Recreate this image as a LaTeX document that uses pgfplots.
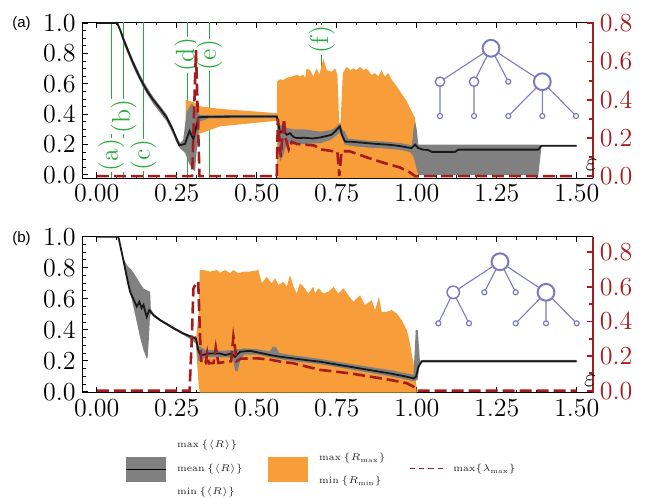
\RequirePackage{fix-cm}
\documentclass[border=0pt]{standalone}
\usepackage{fontspec}
\usepackage{graphicx}
\usepackage{pgfplots}
\pgfplotsset{compat=1.18}
\newfontfamily\lsans{Liberation Sans}
\definecolor{eRed}{RGB}{165,28,30}
\definecolor{oFill}{RGB}{247,157,57}
\definecolor{gFill}{RGB}{128,128,128}
\definecolor{gLab}{RGB}{40,170,60}
\definecolor{treeC}{RGB}{122,122,196}
\tikzset{glab/.style={gLab, rotate=90, fill=white, inner sep=0.3pt, font=\fontsize{13}{15}\selectfont}}
\pgfplotsset{
  base/.style={scale only axis, width=255pt, height=78pt, anchor=south west,
    xmin=-0.044, xmax=1.55, clip=true,
    tick label style={font=\fontsize{13}{15}\selectfont},
    tick align=inside},
  leftax/.style={base,
    axis line style={black, line width=0.5pt},
    every tick/.style={black, line width=0.5pt},
    major tick length=2.8pt, minor tick length=1.6pt,
    xtick={0,0.25,0.5,0.75,1,1.25,1.5}, minor x tick num=3,
    ytick={0,0.2,0.4,0.6,0.8,1.0}, minor y tick num=3,
    xtick pos=both, ytick pos=left,
    xticklabel style={/pgf/number format/.cd, fixed, fixed zerofill, precision=2},
    yticklabel style={/pgf/number format/.cd, fixed, fixed zerofill, precision=1}},
  rightax/.style={base,
    axis x line=none, axis y line*=right, tick align=inside,
    y axis line style={eRed, line width=1pt},
    every tick/.style={eRed, line width=0.9pt},
    major tick length=3pt, minor tick length=2pt,
    ytick={0,0.2,0.4,0.6,0.8}, minor y tick num=1,
    yticklabel style={eRed, /pgf/number format/.cd, fixed, fixed zerofill, precision=1}},
  meanl/.style={black!90, line width=0.9pt},
  redl/.style={eRed, line width=1.3pt, dash pattern=on 6pt off 2.5pt}
}
\newcommand\legsc[1]{\scalebox{0.87}{#1}}
\begin{document}
\begin{tikzpicture}
\path[use as bounding box] (0,0) rectangle (323.5pt,-250pt);

% ================= TOP PANEL =================
\begin{axis}[leftax, at={(41.35pt,-89pt)}, ymin=-0.02, ymax=1.007]
\foreach \xx in {0.045,0.084,0.146,0.283,0.352,0.703}{
  \edef\tmp{\noexpand\draw[gLab, line width=0.5pt] (axis cs:\xx,-0.02) -- (axis cs:\xx,1.007);}\tmp}
\node[glab] at (axis cs:0.045,0.133) {(a)};
\node[glab] at (axis cs:0.084,0.385) {(b)};
\node[glab] at (axis cs:0.146,0.133) {(c)};
\node[glab] at (axis cs:0.283,0.79) {(d)};
\node[glab] at (axis cs:0.352,0.79) {(e)};
\node[glab] at (axis cs:0.703,0.89) {(f)};
% orange band: max{R_max} then min{R_min} reversed
\addplot[fill=oFill, draw=none] coordinates {
(0.278,0.494)(0.302,0.48)(0.323,0.452)(0.385,0.435)(0.45,0.425)(0.5625,0.407)
(0.5635,0.615)(0.573,0.63)(0.583,0.625)(0.594,0.64)(0.604,0.645)(0.614,0.65)(0.625,0.66)
(0.635,0.648)(0.646,0.66)(0.651,0.637)(0.656,0.70)(0.667,0.69)(0.677,0.648)(0.6875,0.702)
(0.696,0.66)(0.708,0.768)(0.719,0.69)(0.734,0.68)(0.745,0.702)(0.752,0.66)(0.758,0.33)
(0.762,0.35)(0.769,0.67)(0.781,0.713)(0.792,0.69)(0.802,0.702)(0.812,0.69)(0.823,0.713)
(0.833,0.69)(0.844,0.70)(0.859,0.66)(0.87,0.67)(0.88,0.648)(0.89,0.69)(0.9,0.648)
(0.911,0.67)(0.922,0.626)(0.9375,0.583)(0.948,0.55)(0.969,0.484)(0.984,0.418)(0.995,0.374)
(1.0,0.2)(1.005,-0.02)
(0.5635,-0.02)(0.5625,0.357)(0.385,0.32)(0.32,0.27)(0.30,0.25)(0.278,0.33)
} -- cycle;
% gray band: max{<R>} then min{<R>} reversed
\addplot[fill=gFill, draw=none] coordinates {
(0.0,1.0)(0.064,1.0)(0.084,0.91)(0.114,0.755)(0.146,0.615)(0.176,0.515)(0.218,0.40)
(0.235,0.325)(0.25,0.25)(0.26,0.21)(0.27,0.23)(0.276,0.33)(0.281,0.418)(0.297,0.47)
(0.31,0.43)(0.318,0.40)(0.323,0.396)(0.35,0.393)(0.55,0.395)(0.5625,0.395)(0.568,0.37)
(0.573,0.33)(0.583,0.32)(0.594,0.31)(0.615,0.30)(0.65,0.30)(0.7,0.285)(0.73,0.295)
(0.745,0.31)(0.76,0.34)(0.766,0.30)(0.775,0.287)(0.785,0.24)(0.85,0.225)(0.9,0.22)
(0.95,0.21)(0.985,0.195)(0.99,0.3)(0.995,0.352)(1.0,0.3)(1.005,0.2)(1.38,0.2)(1.39,0.197)(1.5,0.197)
(1.5,0.189)(1.39,0.189)(1.38,0.0)(1.005,0.0)(0.99,0.12)(0.98,0.15)(0.95,0.165)(0.9,0.175)
(0.85,0.18)(0.8,0.19)(0.775,0.2)(0.76,0.28)(0.73,0.23)(0.7,0.21)(0.65,0.205)(0.615,0.205)
(0.594,0.21)(0.583,0.13)(0.573,0.09)(0.568,0.2)(0.5625,0.375)(0.55,0.375)(0.35,0.373)
(0.323,0.352)(0.318,0.287)(0.312,0.15)(0.307,0.024)(0.297,0.046)(0.29,0.07)(0.276,0.145)
(0.26,0.177)(0.25,0.21)(0.235,0.285)(0.218,0.355)(0.176,0.47)(0.146,0.57)(0.114,0.71)
(0.084,0.865)(0.064,1.0)(0.0,1.0)
} -- cycle;
% mean <R>
\addplot[meanl] coordinates {
(0.0,1.0)(0.064,1.0)(0.074,0.95)(0.084,0.89)(0.099,0.81)(0.114,0.735)(0.13,0.66)
(0.146,0.595)(0.161,0.54)(0.176,0.495)(0.197,0.44)(0.218,0.38)(0.235,0.31)(0.25,0.235)
(0.258,0.195)(0.268,0.2)(0.276,0.205)(0.283,0.25)(0.29,0.29)(0.296,0.26)(0.302,0.235)
(0.31,0.31)(0.318,0.38)(0.35,0.383)(0.45,0.385)(0.5625,0.385)(0.568,0.33)(0.573,0.28)
(0.583,0.29)(0.594,0.265)(0.604,0.275)(0.615,0.25)(0.625,0.243)(0.65,0.245)(0.675,0.24)
(0.698,0.247)(0.713,0.254)(0.734,0.265)(0.745,0.287)(0.76,0.32)(0.766,0.265)(0.776,0.22)
(0.80,0.218)(0.844,0.21)(0.87,0.205)(0.906,0.2)(0.93,0.195)(0.948,0.19)(0.975,0.18)
(0.984,0.177)(0.995,0.2)(1.005,0.177)(1.021,0.166)(1.035,0.165)(1.047,0.152)(1.12,0.152)
(1.13,0.167)(1.38,0.167)(1.39,0.193)(1.5,0.193)
};
\end{axis}
\begin{axis}[rightax, at={(41.35pt,-89pt)}, ymin=-0.01, ymax=0.807]
\addplot[redl] coordinates {
(0.0,0)(0.298,0)(0.31,0.66)(0.321,0)(0.5625,0)(0.566,0.30)(0.575,0.1)(0.585,0.30)
(0.59,0.2)(0.60,0.14)(0.61,0.18)(0.625,0.168)(0.65,0.165)(0.68,0.16)(0.70,0.14)
(0.74,0.13)(0.752,0.128)(0.758,0.0)(0.765,0.13)(0.79,0.13)(0.844,0.098)(0.896,0.07)
(0.948,0.045)(0.979,0.019)(0.995,0.0)(1.5,0)
};
\end{axis}

% ================= BOTTOM PANEL =================
\begin{axis}[leftax, at={(41.35pt,-196.35pt)}, ymin=-0.006, ymax=1.0]
\addplot[fill=oFill, draw=none] coordinates {
(0.31,0.34)(0.318,0.5)(0.322,0.785)(0.333,0.785)(0.354,0.775)(0.375,0.785)(0.385,0.768)
(0.401,0.785)(0.417,0.764)(0.427,0.785)(0.443,0.764)(0.458,0.775)(0.479,0.775)(0.505,0.785)
(0.516,0.7)(0.531,0.74)(0.547,0.7)(0.557,0.732)(0.568,0.688)(0.583,0.71)(0.594,0.678)
(0.604,0.753)(0.615,0.678)(0.625,0.634)(0.635,0.7)(0.646,0.678)(0.661,0.634)(0.677,0.678)
(0.682,0.634)(0.693,0.667)(0.708,0.634)(0.724,0.645)(0.74,0.677)(0.755,0.634)(0.771,0.667)
(0.786,0.623)(0.802,0.58)(0.823,0.623)(0.838,0.559)(0.859,0.591)(0.87,0.527)(0.882,0.613)
(0.89,0.516)(0.906,0.516)(0.922,0.527)(0.9375,0.505)(0.953,0.462)(0.969,0.398)(0.979,0.312)
(0.984,0.247)(0.99,0.183)(0.995,0.097)(0.998,0.054)(1.0,-0.006)
(0.322,-0.006)(0.318,0.05)(0.31,0.3)
} -- cycle;
\addplot[fill=gFill, draw=none] coordinates {
(0.0,1.0)(0.0675,1.0)(0.083,0.86)(0.095,0.815)(0.109,0.785)(0.125,0.735)(0.135,0.70)
(0.146,0.667)(0.156,0.655)(0.1667,0.645)(0.169,0.535)(0.177,0.505)(0.198,0.47)(0.24,0.418)
(0.27,0.384)(0.30,0.355)(0.31,0.36)(0.317,0.3)(0.323,0.29)(0.34,0.27)(0.40,0.265)(0.43,0.27)
(0.46,0.28)(0.5,0.275)(0.54,0.26)(0.55,0.29)(0.56,0.29)(0.57,0.25)(0.615,0.235)(0.698,0.212)
(0.792,0.18)(0.854,0.16)(0.917,0.14)(0.969,0.118)(0.99,0.11)(0.997,0.4)(1.003,0.4)(1.01,0.2)
(1.02,0.205)(1.5,0.205)
(1.5,0.19)(1.02,0.19)(1.01,0.19)(1.003,0.08)(0.997,0.07)(0.99,0.068)(0.969,0.078)(0.917,0.1)
(0.854,0.122)(0.792,0.145)(0.698,0.178)(0.615,0.198)(0.573,0.21)(0.5,0.24)(0.46,0.24)
(0.448,0.2)(0.44,0.13)(0.432,0.14)(0.425,0.22)(0.40,0.222)(0.34,0.225)(0.323,0.2)(0.317,0.2)
(0.31,0.31)(0.30,0.33)(0.27,0.368)(0.24,0.402)(0.198,0.455)(0.177,0.485)(0.17,0.51)
(0.166,0.48)(0.163,0.35)(0.159,0.22)(0.156,0.215)(0.146,0.27)(0.135,0.354)(0.125,0.45)
(0.109,0.60)(0.095,0.70)(0.083,0.84)(0.0675,1.0)(0.0,1.0)
} -- cycle;
\addplot[meanl] coordinates {
(0.0,1.0)(0.0675,1.0)(0.083,0.85)(0.094,0.74)(0.104,0.645)(0.114,0.6)(0.125,0.55)
(0.133,0.58)(0.14,0.54)(0.146,0.56)(0.156,0.484)(0.164,0.527)(0.177,0.495)(0.198,0.462)
(0.22,0.435)(0.24,0.41)(0.27,0.376)(0.31,0.343)(0.317,0.27)(0.322,0.245)(0.327,0.237)
(0.354,0.247)(0.385,0.247)(0.401,0.237)(0.422,0.247)(0.432,0.226)(0.448,0.258)(0.479,0.264)
(0.51,0.251)(0.542,0.237)(0.573,0.226)(0.615,0.215)(0.656,0.204)(0.698,0.194)(0.729,0.183)
(0.792,0.161)(0.854,0.14)(0.917,0.118)(0.969,0.097)(0.99,0.086)(0.998,0.097)(1.005,0.161)
(1.016,0.197)(1.5,0.197)
};
\end{axis}
\begin{axis}[rightax, at={(41.35pt,-196.35pt)}, ymin=-0.012, ymax=0.89]
\addplot[redl] coordinates {
(0.0,0)(0.29,0)(0.297,0.3)(0.302,0.59)(0.31,0.62)(0.317,0.63)(0.323,0.3)(0.327,0.158)
(0.34,0.158)(0.345,0.216)(0.35,0.158)(0.365,0.16)(0.372,0.25)(0.38,0.16)(0.40,0.165)
(0.42,0.17)(0.427,0.312)(0.432,0.25)(0.437,0.17)(0.45,0.185)(0.5,0.187)(0.54,0.18)
(0.573,0.168)(0.615,0.158)(0.656,0.139)(0.698,0.12)(0.792,0.1)(0.854,0.081)(0.917,0.062)
(0.969,0.043)(0.99,0.023)(1.0,0.0)(1.5,0.0)
};
\end{axis}

% ================= annotations =================
\begin{scope}[x=0.5pt,y=-0.5pt]
\node[font=\lsans\fontsize{7.5}{9}\selectfont] at (21.5,24) {(a)};
\node[font=\lsans\fontsize{7.5}{9}\selectfont] at (21.5,239) {(b)};
\node[font=\fontsize{13}{15}\selectfont, inner sep=0pt] at (591.5,164.5) {$\varepsilon$};
\node[font=\fontsize{13}{15}\selectfont, inner sep=0pt] at (590,380.5) {$\varepsilon$};
% tree (a)
\begin{scope}[treeC]
\draw[line width=0.55pt] (491,48.3) -- (440,81.7) (491,48.3) -- (474,81.7) (491,48.3) -- (508.3,81.7) (491,48.3) -- (542.3,81.7)
  (440,81.7) -- (440,116) (474,81.7) -- (474,116) (542.3,81.7) -- (508.3,116) (542.3,81.7) -- (542.3,116) (542.3,81.7) -- (576,116);
\draw[line width=1pt, fill=white] (491,48.3) circle[radius=4.2pt] (542.3,81.7) circle[radius=4.2pt];
\draw[line width=0.7pt, fill=white] (440,81.7) circle[radius=2.35pt] (474,81.7) circle[radius=2.35pt];
\draw[line width=0.6pt, fill=white] (508.3,81.7) circle[radius=1.25pt]
  (440,116) circle[radius=1.25pt] (474,116) circle[radius=1.25pt] (508.3,116) circle[radius=1.25pt]
  (542.3,116) circle[radius=1.25pt] (576,116) circle[radius=1.25pt];
% tree (b)
\draw[line width=0.55pt] (500,261.7) -- (453.3,292.3) (500,261.7) -- (484.3,292.3) (500,261.7) -- (515.7,292.3) (500,261.7) -- (546,292.3)
  (453.3,292.3) -- (438.3,323.3) (453.3,292.3) -- (469,323.3) (546,292.3) -- (515.7,323.3) (546,292.3) -- (546,323.3) (546,292.3) -- (576.7,323.3);
\draw[line width=1pt, fill=white] (500,261.7) circle[radius=4.2pt] (546,292.3) circle[radius=4.2pt];
\draw[line width=0.75pt, fill=white] (453.3,292.3) circle[radius=3.1pt];
\draw[line width=0.6pt, fill=white] (484.3,292.3) circle[radius=1.25pt] (515.7,292.3) circle[radius=1.25pt]
  (438.3,323.3) circle[radius=1.25pt] (469,323.3) circle[radius=1.25pt] (515.7,323.3) circle[radius=1.25pt]
  (546,323.3) circle[radius=1.25pt] (576.7,323.3) circle[radius=1.25pt];
\end{scope}
% legend
\fill[gFill] (126,457) rectangle (166,482);
\draw[black, line width=0.6pt] (126,469.5) -- (166,469.5);
\fill[oFill] (268,457) rectangle (308,482);
\draw[eRed, line width=0.6pt, dash pattern=on 2.6pt off 2pt] (410,468.7) -- (443,468.7);
\begin{scope}[every node/.style={anchor=west, inner sep=0pt, font=\fontsize{5.6}{7}\selectfont, black!85}]
\node at (176.7,445) {\legsc{$\max\,\{\langle R\rangle\}$}};
\node at (176.7,469) {\legsc{$\mathrm{mean}\,\{\langle R\rangle\}$}};
\node at (176.7,492) {\legsc{$\min\,\{\langle R\rangle\}$}};
\node at (318.7,458) {\legsc{$\max\,\{R_{\max}\}$}};
\node at (318.7,481) {\legsc{$\min\,\{R_{\min}\}$}};
\node at (453,468.7) {\legsc{$\max\{\lambda_{\max}\}$}};
\end{scope}
\end{scope}
\end{tikzpicture}
\end{document}
